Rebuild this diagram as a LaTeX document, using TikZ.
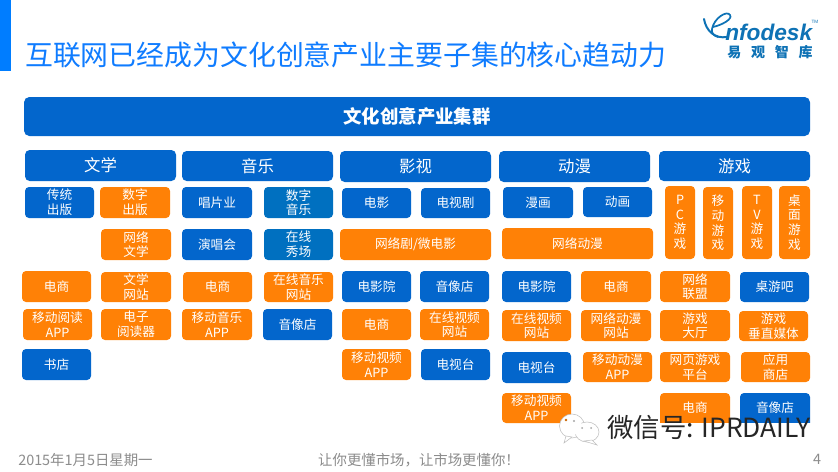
\documentclass[tikz,border=0pt]{standalone}
\usepackage{fontspec}
\setmainfont{Noto Sans CJK SC}
\newfontfamily\latinfont{Liberation Sans}
\usetikzlibrary{calc}
\definecolor{cblue}{HTML}{0366CC}
\definecolor{ctile}{HTML}{0070C0}
\definecolor{corange}{HTML}{FF8106}
\definecolor{ctitle}{HTML}{0F7CFF}
\definecolor{cbar}{HTML}{007DFF}
\definecolor{cgrey}{HTML}{8C8C8C}
\definecolor{clogo}{HTML}{0E72B5}
\newcommand{\bx}[7]{\path[rounded corners=3pt,fill=#6] (#2,#3) rectangle (#4,#5); \node[boxtext] (#1) at ($(#2,#3)!0.5!(#4,#5)$) {#7};}
\tikzset{
  boxtext/.style={text=white,font=\fontsize{9.5pt}{11pt}\selectfont,align=center,inner sep=0pt},
  headtext/.style={text=white,font=\fontsize{12.3pt}{14pt}\selectfont,align=center,inner sep=0pt},
  foottext/.style={text=cgrey,font=\fontsize{10.8pt}{12pt}\selectfont,inner sep=0pt}
}
\begin{document}
\begin{tikzpicture}[x=0.75pt,y=-0.75pt]
\useasboundingbox[fill=white] (0,0) rectangle (838,471);
\fill[cbar] (0,0) rectangle (11,71);
\node[text=ctitle,font=\fontsize{20.9pt}{22pt}\selectfont,anchor=west,inner sep=0pt] (title) at (25,55) {互联网已经成为文化创意产业主要子集的核心趋动力};
% logo
\draw[clogo,line width=1.5pt,line cap=round] (704,19) .. controls (706,31) and (715,39) .. (727,37);
\draw[clogo,line width=1.3pt,line cap=round] (713,27) .. controls (722,25) and (733,19) .. (730,15) .. controls (727,10) and (714,18) .. (712,29) .. controls (711,33) and (714,36) .. (718,37);
\node[text=clogo,font=\latinfont\bfseries\itshape\fontsize{17pt}{17pt}\selectfont,anchor=west,inner sep=0pt] (logo) at (725,32) {nfodesk};
\node[text=clogo,font=\latinfont\fontsize{3.5pt}{4pt}\selectfont,inner sep=0pt] (logotm) at (815,22) {TM};
\node[text=clogo,font=\fontsize{10.5pt}{11pt}\selectfont\bfseries,inner sep=0pt] (logocn) at (770,52) {易\hspace{0.7em}观\hspace{0.7em}智\hspace{0.7em}库};
% banner
\path[rounded corners=4pt,fill=cblue] (24,97) rectangle (810,136);
\node[text=white,font=\fontsize{13.8pt}{15pt}\selectfont\bfseries,inner sep=0pt] (banner) at (417,117) {文化创意产业集群};
% headers
\foreach \n/\a/\b/\c/\d/\t in {h1/25/150/176/181/文学,h2/182/151/333/181/音乐,h3/340/151/491/182/影视,h4/499/151/650/182/动漫,h5/659/151/810/181/游戏}{
  \path[rounded corners=3.5pt,fill=cblue] (\a,\b) rectangle (\c,\d);
  \node[headtext] (\n) at ($(\a,\b)!0.5!(\c,\d)$) {\t};
}
% column 1
\bx{a1}{25}{187}{94}{218}{cblue}{传统\\出版}
\bx{a2}{100}{187}{170}{218}{corange}{数字\\出版}
\bx{a3}{101}{229}{171}{260}{corange}{网络\\文学}
\bx{a4}{22}{271}{91}{302}{corange}{电商}
\bx{a5}{101}{272}{171}{302}{corange}{文学\\网站}
\bx{a6}{23}{309}{92}{340}{corange}{移动阅读\\APP}
\bx{a7}{101}{309}{171}{340}{corange}{电子\\阅读器}
\bx{a8}{22}{349}{91}{380}{cblue}{书店}
% column 2
\bx{b1}{182}{187}{252}{218}{cblue}{唱片业}
\bx{b2}{264}{187}{333}{218}{ctile}{数字\\音乐}
\bx{b3}{182}{229}{252}{260}{cblue}{演唱会}
\bx{b4}{264}{229}{333}{260}{ctile}{在线\\秀场}
\bx{b5}{183}{272}{252}{302}{corange}{电商}
\bx{b6}{264}{272}{333}{302}{corange}{在线音乐\\网站}
\bx{b7}{182}{309}{252}{340}{corange}{移动音乐\\APP}
\bx{b8}{263}{309}{332}{340}{cblue}{音像店}
% column 3
\bx{c1}{342}{188}{411}{218}{cblue}{电影}
\bx{c2}{421}{188}{490}{218}{cblue}{电视剧}
\bx{c3}{340}{229}{491}{260}{corange}{网络剧/微电影}
\bx{c4}{342}{271}{411}{302}{cblue}{电影院}
\bx{c5}{420}{271}{489}{302}{cblue}{音像店}
\bx{c6}{342}{309}{411}{340}{corange}{电商}
\bx{c7}{420}{309}{489}{340}{corange}{在线视频\\网站}
\bx{c8}{342}{349}{411}{380}{corange}{移动视频\\APP}
\bx{c9}{421}{349}{490}{380}{cblue}{电视台}
% column 4
\bx{d1}{503}{187}{573}{218}{cblue}{漫画}
\bx{d2}{583}{187}{652}{217}{cblue}{动画}
\bx{d3}{502}{228}{653}{259}{corange}{网络动漫}
\bx{d4}{502}{271}{571}{302}{cblue}{电影院}
\bx{d5}{581}{271}{651}{302}{corange}{电商}
\bx{d6}{502}{310}{571}{341}{corange}{在线视频\\网站}
\bx{d7}{581}{310}{651}{341}{corange}{网络动漫\\网站}
\bx{d8}{502}{352}{571}{383}{cblue}{电视台}
\bx{d9}{583}{352}{652}{382}{corange}{移动动漫\\APP}
\bx{d10}{502}{393}{571}{423}{corange}{移动视频\\APP}
% column 5
\bx{e1}{665}{186}{695}{259}{corange}{P\\C\\游\\戏}
\bx{e2}{703}{187}{733}{259}{corange}{移\\动\\游\\戏}
\bx{e3}{742}{186}{772}{259}{corange}{T\\V\\游\\戏}
\bx{e4}{779}{186}{810}{259}{corange}{桌\\面\\游\\戏}
\bx{e5}{660}{271}{730}{302}{corange}{网络\\联盟}
\bx{e6}{740}{272}{809}{302}{cblue}{桌游吧}
\bx{e7}{660}{310}{730}{341}{corange}{游戏\\大厅}
\bx{e8}{739}{311}{808}{341}{corange}{游戏\\垂直媒体}
\bx{e9}{660}{352}{730}{382}{corange}{网页游戏\\平台}
\bx{e10}{741}{352}{810}{382}{corange}{应用\\商店}
\path[rounded corners=3pt,fill=corange] (660,393) rectangle (730,430);
\path[rounded corners=3pt,fill=cblue] (740,393) rectangle (810,430);
\fill[white] (650,423) rectangle (815,432);
\node[boxtext] (e11) at (695,408) {电商};
\node[boxtext] (e12) at (775,408) {音像店};
% watermark
\begin{scope}[line width=0.4pt,draw=black!25,fill=white]
\filldraw (572,426) ellipse (12.5 and 12);
\filldraw (566,436) -- (564,443) -- (572,437) -- cycle;
\filldraw (587,432) ellipse (12 and 10);
\filldraw (592,440) -- (597,445) -- (584,441) -- cycle;
\end{scope}
\fill[white] (572,426) ellipse (10 and 9) (587,432) ellipse (10 and 8);
\fill[black!35] (574,421) circle (1.2) (582,428) circle (1) (591,428) circle (1);
\fill[orange!80!black] (566,420) circle (1.3);
\node[text=black!85,font=\fontsize{19.8pt}{20pt}\selectfont,anchor=west,inner sep=0pt] (wm) at (607,428) {微信号: IPRDAILY};
% footer
\node[foottext,anchor=west] (f1) at (18,460) {2015年1月5日星期一};
\node[foottext] (f2) at (419,460) {让你更懂市场，让市场更懂你！};
\node[foottext] (f3) at (817,459) {4};
\end{tikzpicture}
\end{document}
